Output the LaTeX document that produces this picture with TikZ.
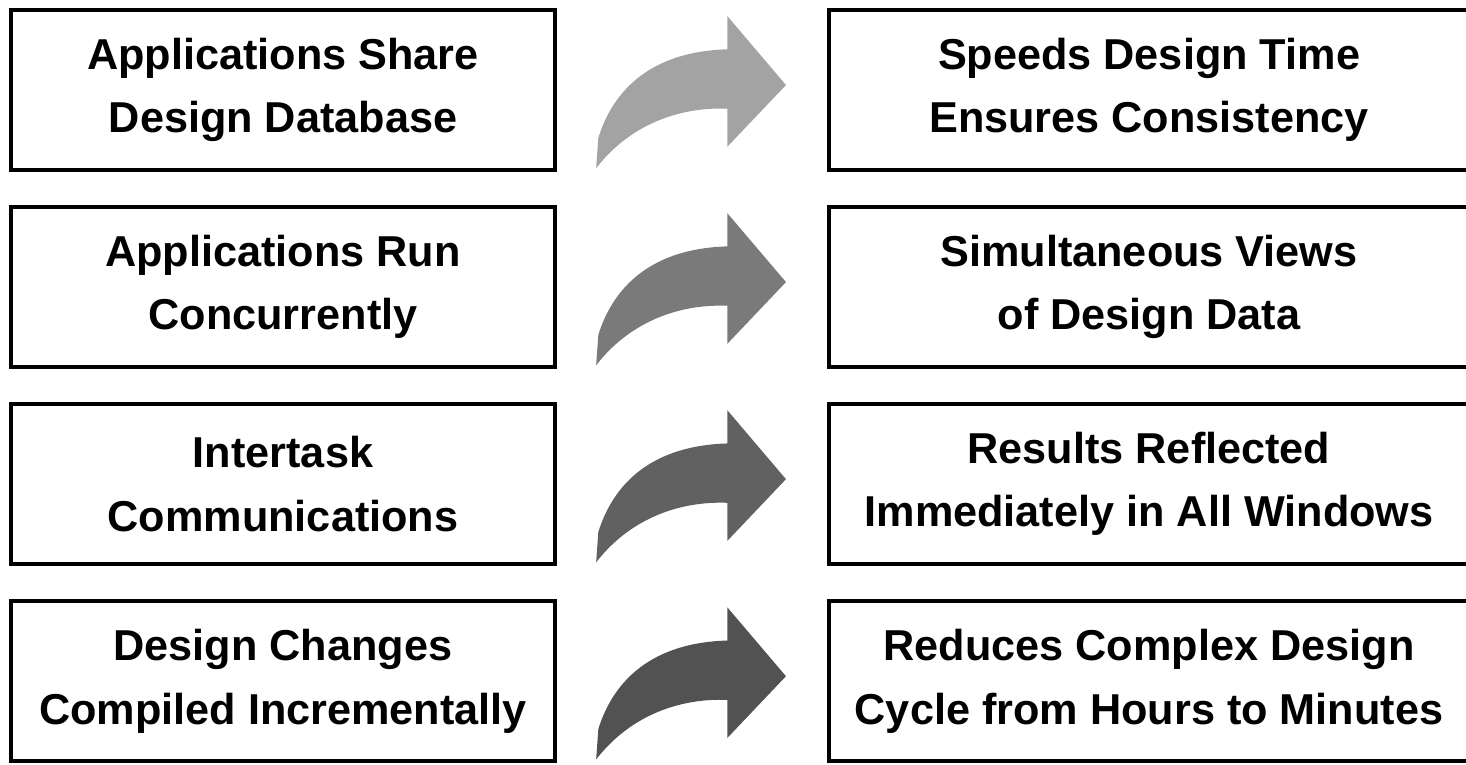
\documentclass[tikz,border=0pt]{standalone}
\usepackage{fontspec}
\setmainfont{Liberation Sans}
\usetikzlibrary{positioning,calc}

\tikzset{
  claim/.style={draw, line width=1.3pt, minimum width=54.4mm, minimum height=16mm,
    align=center, inner sep=0pt, font=\fontsize{12.3}{18}\selectfont\bfseries},
  gain/.style={claim, minimum width=64mm},
  pics/bendarrow/.style={code={
    \fill[black!#1, draw=black!#1, line width=0.4pt]
      (-93,48) .. controls (-78,0) and (-40,-38) .. (36,-40)
      -- (36,-72) -- (93,-5) -- (36,55) -- (36,18)
      .. controls (-10,16) and (-60,32) .. (-95,76) -- cycle;
  }}
}

\begin{document}
\begin{tikzpicture}[x=0.1mm, y=-0.1mm]
  \clip (0,0) rectangle (1466,765);
  % left column: what the tools do
  \node[claim] (l1) at (283,90) {Applications Share\\Design Database};
  \node[claim, below=3.25mm of l1] (l2) {Applications Run\\Concurrently};
  \node[claim, below=3.25mm of l2] (l3) {Intertask\\Communications};
  \node[claim, below=3.25mm of l3] (l4) {Design Changes\\Compiled Incrementally};
  % right column: what the designer gets
  \node[gain] (r1) at (1149,90) {Speeds Design Time\\Ensures Consistency};
  \node[gain, below=3.25mm of r1] (r2) {Simultaneous Views\\of Design Data};
  \node[gain, below=3.25mm of r2] (r3) {Results Reflected\\Immediately in All Windows};
  \node[gain, below=3.25mm of r3] (r4) {Reduces Complex Design\\Cycle from Hours to Minutes};
  % curved block arrows, darker on each row
  \foreach \row/\shade in {1/36, 2/52, 3/62, 4/68}
    \pic at ($(l\row.east)!0.5!(r\row.west)$) {bendarrow=\shade};
\end{tikzpicture}
\end{document}
